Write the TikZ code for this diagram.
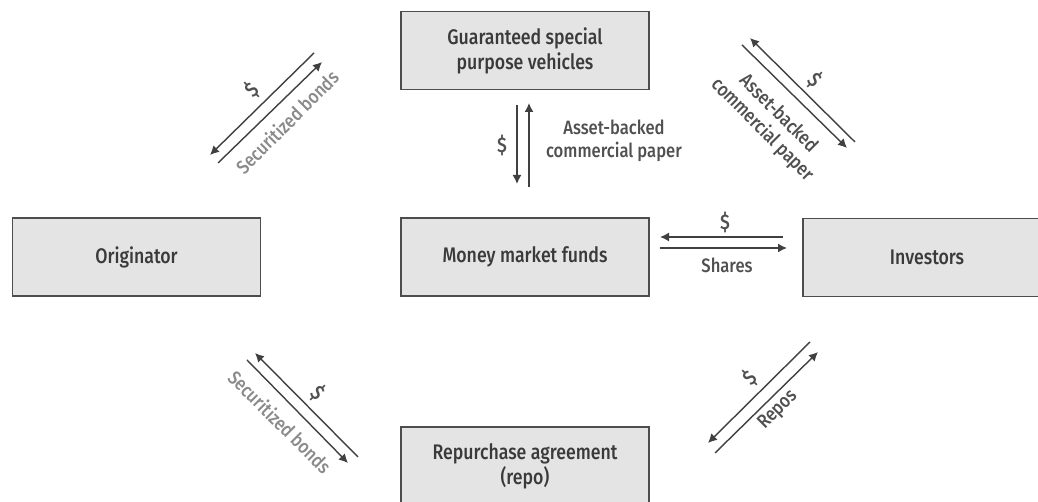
\documentclass[tikz,border=0pt]{standalone}
\usepackage{fontspec}
\usetikzlibrary{arrows.meta}
\newfontfamily\boxfont{Fira Sans Medium}[FakeStretch=0.84]
\newfontfamily\lblfont{Fira Sans Medium}[FakeStretch=0.86]
\definecolor{boxfill}{HTML}{E4E4E4}
\definecolor{boxline}{HTML}{4D4D4D}
\definecolor{boxtext}{HTML}{3A3A3A}
\definecolor{lbltext}{HTML}{505050}
\definecolor{lightlbl}{HTML}{8A8A8A}
\definecolor{arrowgray}{HTML}{404040}

\begin{document}
\begin{tikzpicture}[x=0.02cm,y=0.02cm,
  box/.style={draw=boxline,fill=boxfill,line width=0.9pt,minimum width=4.96cm,
    minimum height=1.56cm,inner sep=0pt,align=center,text=boxtext,
    font=\boxfont\fontsize{12}{14.2}\selectfont},
  flow/.style={draw=arrowgray,line width=0.8pt,-{Latex[length=1.8mm,width=1.8mm]}},
  lbl/.style={text=lbltext,font=\lblfont\fontsize{11}{13}\selectfont,inner sep=0pt,align=center},
  lbllight/.style={lbl,text=lightlbl}]
   \useasboundingbox (0,0) rectangle (1038,502);
   \clip (0,0) rectangle (1038,502);
   % the five parties
   \node[box] (spv)  at (525,451.5) {Guaranteed special\\purpose vehicles};
   \node[box] (orig) at (136.5,245) {Originator};
   \node[box] (mmf)  at (525,245)   {Money market funds};
   \node[box] (inv)  at (927,244.5) {Investors};
   \node[box] (repo) at (525,36)    {Repurchase agreement\\(repo)};
   % originator <-> spv
   \coordinate (os1) at (314,449); \coordinate (os2) at (210,347);
   \coordinate (os3) at (218,339); \coordinate (os4) at (322,440);
   \draw[flow] (os1) -- (os2);
   \draw[flow] (os3) -- (os4);
   \node[lbl,rotate=45,font=\lblfont\fontsize{12}{13}\selectfont] (osd) at (252,412) {\$};
   \node[lbllight,rotate=45] (osb) at (287,380) {Securitized bonds};
   % spv <-> investors
   \coordinate (si1) at (855,360); \coordinate (si2) at (750,464);
   \coordinate (si3) at (742,457); \coordinate (si4) at (847,354);
   \draw[flow] (si1) -- (si2);
   \draw[flow] (si3) -- (si4);
   \node[lbl,rotate=-45,font=\lblfont\fontsize{12}{13}\selectfont] (sid) at (815,422) {\$};
   \node[lbl,rotate=-45] (sip) at (770,380) {Asset-backed\\commercial paper};
   % spv <-> money market funds
   \coordinate (sm1) at (517,397); \coordinate (sm2) at (517,318);
   \coordinate (sm3) at (529,315); \coordinate (sm4) at (529,399);
   \draw[flow] (sm1) -- (sm2);
   \draw[flow] (sm3) -- (sm4);
   \node[lbl,font=\lblfont\fontsize{12}{13}\selectfont] (smd) at (502,357) {\$};
   \node[lbl] (smp) at (614,361) {Asset-backed\\commercial paper};
   % money market funds <-> investors
   \coordinate (mi1) at (783,265); \coordinate (mi2) at (660,265);
   \coordinate (mi3) at (660,254); \coordinate (mi4) at (787,254);
   \draw[flow] (mi1) -- (mi2);
   \draw[flow] (mi3) -- (mi4);
   \node[lbl,font=\lblfont\fontsize{12}{13}\selectfont] (mid) at (725,280) {\$};
   \node[lbl] (mis) at (727,237) {Shares};
   % originator <-> repo
   \coordinate (or1) at (358,45);  \coordinate (or2) at (255,149);
   \coordinate (or3) at (247,142); \coordinate (or4) at (348,39);
   \draw[flow] (or1) -- (or2);
   \draw[flow] (or3) -- (or4);
   \node[lbl,rotate=-45,font=\lblfont\fontsize{12}{13}\selectfont] (ord) at (318,109) {\$};
   \node[lbllight,rotate=-45] (orb) at (280,80) {Securitized bonds};
   % repo <-> investors
   \coordinate (ri1) at (810,160); \coordinate (ri2) at (708,59);
   \coordinate (ri3) at (715,49);  \coordinate (ri4) at (818,150);
   \draw[flow] (ri1) -- (ri2);
   \draw[flow] (ri3) -- (ri4);
   \node[lbl,rotate=45,font=\lblfont\fontsize{12}{13}\selectfont] (rid) at (750,124) {\$};
   \node[lbl,rotate=45] (rir) at (778,92) {Repos};
\end{tikzpicture}
\end{document}
